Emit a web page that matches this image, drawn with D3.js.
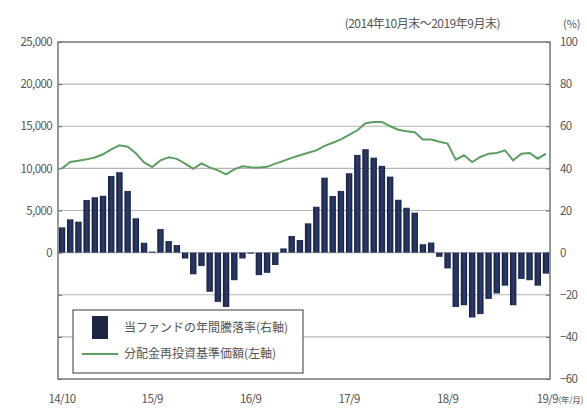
<!DOCTYPE html>
<html>
<head>
<meta charset="utf-8">
<script src="https://cdn.jsdelivr.net/npm/d3@7"></script>
<style>
  body { margin: 0; background: #fff; }
  text { font-family: "Noto Sans CJK JP", "Noto Sans", sans-serif; fill: #555; }
</style>
</head>
<body>
<svg id="chart" width="587" height="409"></svg>
<script>
// months 14/10 .. 19/9
var months = [];
for (var y = 2014, m = 10; months.length < 60; ) {
    months.push((y % 100) + '/' + m);
    m++; if (m > 12) { m = 1; y++; }
}

// 1-year return of fund (%) - right axis
var returns = [12.0, 15.8, 14.7, 25.0, 26.3, 27.0, 36.4, 38.2, 29.3, 16.3,
               4.7, 0.5, 11.2, 5.5, 3.6, -2.8, -10.3, -6.4, -18.6, -23.4,
               -25.8, -13.1, -2.8, -0.5, -10.7, -9.6, -5.9, 2.0, 7.9, 6.0,
               13.9, 21.8, 35.6, 26.9, 29.3, 37.7, 46.4, 49.1, 45.1, 41.2,
               36.1, 25.1, 21.3, 19.0, 4.0, 4.8, -2.0, -7.5, -25.8, -25.0,
               -30.8, -29.2, -22.0, -19.4, -15.7, -25.0, -12.5, -13.1, -15.7, -10.0];

// NAV incl. reinvested distributions (yen) - left axis
var nav = [10000, 10750, 10900, 11070, 11300, 11670, 12260, 12740, 12560, 11790,
           10710, 10150, 10950, 11310, 11130, 10560, 9960, 10600, 10120, 9760,
           9290, 9880, 10240, 10120, 10100, 10180, 10560, 10890, 11250, 11550,
           11850, 12140, 12680, 13040, 13450, 13990, 14520, 15360, 15510, 15510,
           15000, 14580, 14400, 14290, 13420, 13420, 13150, 12940, 11040, 11550,
           10750, 11350, 11750, 11820, 12140, 10950, 11750, 11820, 11150, 11750];

var leftTicks = [25000, 20000, 15000, 10000, 5000, 0, -5000, -10000, -15000];
var rightTicks = [100, 80, 60, 40, 20, 0, -20, -40, -60];
var xLabels = ['14/10', '15/9', '16/9', '17/9', '18/9', '19/9'];

var margin = {left: 58, right: 37, top: 42, bottom: 30};
var W = 587, H = 409;
var svg = d3.select('#chart');

var x = d3.scaleBand().domain(months).range([margin.left, W - margin.right]).paddingInner(0.22).paddingOuter(0.1);
var yL = d3.scaleLinear().domain([-15000, 25000]).range([H - margin.bottom, margin.top]);
var yR = d3.scaleLinear().domain([-60, 100]).range([H - margin.bottom, margin.top]);

var x0 = margin.left, x1 = W - margin.right;

// gridlines
svg.append('g').selectAll('line').data(leftTicks.slice(1, -1)).enter().append('line')
    .attr('x1', x0).attr('x2', x1)
    .attr('y1', function(d) { return yL(d); }).attr('y2', function(d) { return yL(d); })
    .attr('stroke', '#b5b5b5').attr('stroke-width', 1.2);

// left axis
var gl = svg.append('g').attr('transform', 'translate(' + x0 + ',0)')
    .call(d3.axisLeft(yL).tickValues(leftTicks).tickSize(-4)
        .tickFormat(function(d) { return d >= 0 ? d3.format(',')(d) : ''; }));
gl.select('.domain').remove();
gl.selectAll('.tick line').attr('stroke', '#666');
gl.selectAll('.tick text').attr('x', -6).style('font-size', '11.5px').style('letter-spacing', '-0.6px');

// right axis
var gr = svg.append('g').attr('transform', 'translate(' + x1 + ',0)')
    .call(d3.axisRight(yR).tickValues(rightTicks).tickSize(-4));
gr.select('.domain').remove();
gr.selectAll('.tick line').attr('stroke', '#666');
gr.selectAll('.tick text').attr('x', 10).style('font-size', '11.5px').style('letter-spacing', '-0.6px');

// bars
var grad = svg.append('defs').append('linearGradient').attr('id', 'barg')
    .attr('x1', 0).attr('x2', 1).attr('y1', 0).attr('y2', 0);
grad.append('stop').attr('offset', '0%').attr('stop-color', '#16203f');
grad.append('stop').attr('offset', '55%').attr('stop-color', '#2d3c6c');
grad.append('stop').attr('offset', '100%').attr('stop-color', '#16203f');

svg.append('g').selectAll('rect').data(returns).enter().append('rect')
    .attr('x', function(d, i) { return x(months[i]); })
    .attr('width', x.bandwidth())
    .attr('y', function(d) { return yR(Math.max(0, d)); })
    .attr('height', function(d) { return Math.abs(yR(d) - yR(0)); })
    .attr('fill', 'url(#barg)');

// nav line
svg.append('path').datum(nav)
    .attr('fill', 'none').attr('stroke', '#5d9e63').attr('stroke-width', 2)
    .attr('d', d3.line()
        .x(function(d, i) { return x(months[i]) + x.bandwidth() / 2; })
        .y(function(d) { return yL(d); }));

// frame
svg.append('rect').attr('x', x0).attr('y', margin.top)
    .attr('width', x1 - x0).attr('height', H - margin.bottom - margin.top)
    .attr('fill', 'none').attr('stroke', '#777').attr('stroke-width', 1.5);

// x labels
svg.append('g').selectAll('text').data(xLabels).enter().append('text')
    .attr('x', function(d, i) { return x(d) + x.bandwidth() / 2 + (i === xLabels.length - 1 ? 12 : 0); })
    .attr('y', 403).attr('text-anchor', function(d, i) { return i === xLabels.length - 1 ? 'end' : 'middle'; })
    .style('font-size', '11.5px').style('letter-spacing', '-0.6px')
    .text(function(d) { return d; });
svg.append('text').attr('x', 558.5).attr('y', 403).style('font-size', '8.5px').style('letter-spacing', '-0.3px').text('(年/月)');

// header
svg.append('text').attr('x', 500).attr('y', 28).attr('text-anchor', 'end')
    .style('font-size', '12px').style('letter-spacing', '-0.5px').text('(2014年10月末～2019年9月末)');
svg.append('text').attr('x', 563).attr('y', 28).style('font-size', '11px').text('(%)');

// legend
var lg = svg.append('g');
lg.append('rect').attr('x', 73).attr('y', 310).attr('width', 230).attr('height', 63)
    .attr('fill', '#fff').attr('stroke', '#666').attr('stroke-width', 1.3);
lg.append('rect').attr('x', 92).attr('y', 316).attr('width', 16).attr('height', 23).attr('fill', '#1c2748');
lg.append('line').attr('x1', 82).attr('x2', 118).attr('y1', 354).attr('y2', 354)
    .attr('stroke', '#5d9e63').attr('stroke-width', 2);
lg.append('text').attr('x', 124).attr('y', 332).style('font-size', '12px').text('当ファンドの年間騰落率(右軸)');
lg.append('text').attr('x', 124).attr('y', 358).style('font-size', '12px').text('分配金再投資基準価額(左軸)');
</script>
</body>
</html>
